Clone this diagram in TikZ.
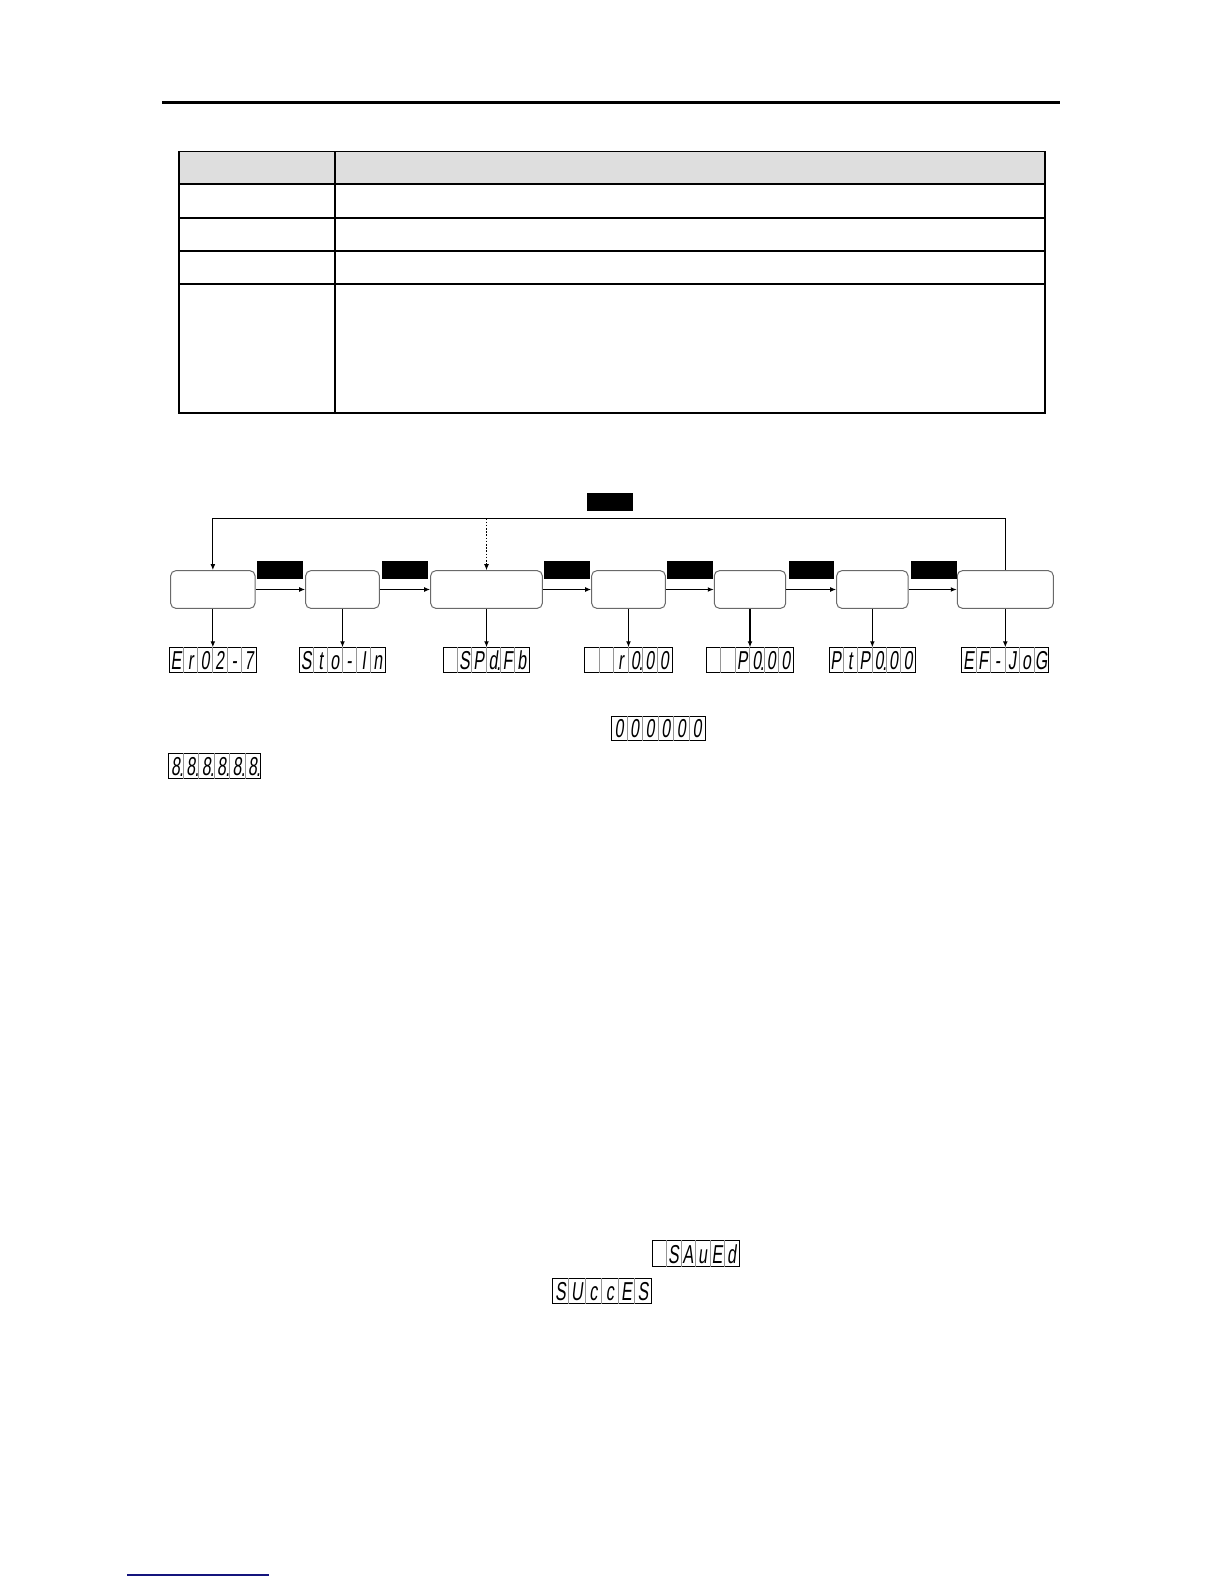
\documentclass[tikz,border=0pt]{standalone}
\usepackage{fontspec}
\usetikzlibrary{arrows.meta,calc}
\newfontfamily\segfont{Liberation Sans}[FakeSlant=0.12,FakeStretch=0.62]
\definecolor{hdrgray}{RGB}{222,222,222}
\definecolor{boxgray}{RGB}{105,105,105}
\definecolor{celldivc}{RGB}{150,150,150}
\definecolor{footblue}{RGB}{20,20,125}
\tikzset{
  tline/.style={line width=0.9bp},
  flowbox/.style={draw=boxgray, rounded corners=2.5bp, line width=0.5bp, inner sep=0pt, minimum height=37.6*0.5bp, minimum width=#1*0.5bp},
  keylabel/.style={fill=black, inner sep=0pt, minimum height=18*0.5bp, minimum width=#1*0.5bp},
  conn/.style={line width=0.55bp},
  arr/.style={conn, -{Latex[length=3bp,width=2.4bp]}},
  dasharr/.style={line width=0.4bp, dash pattern=on 0.8bp off 0.8bp, -{Latex[length=3bp,width=2.4bp]}},
  disp/.style={draw=black, line width=0.5bp, inner sep=0pt},
  celldiv/.style={draw=celldivc, line width=0.3bp},
  segchar/.style={inner sep=0pt, anchor=base, font=\segfont\fontsize{13}{13}\selectfont}
}
% name, centre x, top y, width, height, characters as char/dot pairs
\newcommand\segdisp[6]{%
  \node[disp, minimum width=#4*0.5bp, minimum height=#5*0.5bp, anchor=north] (#1) at (#2,#3) {};
  \foreach \c/\p [count=\i from 0] in {#6} {
    \ifnum\i>0
      \draw[celldiv] ($(#1.north west)+({\i*#4/6},0)$) -- ($(#1.south west)+({\i*#4/6},0)$);
    \fi
    \node[segchar] at ($(#1.south west)+({(\i+0.5)*#4/6},-3.4)$) {\c};
    \ifnum\p=1
      \node[segchar] at ($(#1.south west)+({(\i+1)*#4/6-1.8},-2.6)$) {.};
    \fi
  }
}
\begin{document}
\begin{tikzpicture}[x=0.5bp,y=-0.5bp]
\useasboundingbox (0,0) rectangle (1224,1584);
\fill[white] (0,0) rectangle (1224,1584);

% header rule
\draw[line width=1.15bp] (162,102.5) -- (1060,102.5);

% table
\fill[hdrgray] (178.8,151.5) rectangle (1045.3,184.2);
\draw[tline] (178.8,151.5) rectangle (1045.3,413.3);
\foreach \yy in {184.2,218.3,251.3,284.3} \draw[tline] (178.8,\yy) -- (1045.3,\yy);
\draw[tline] (335.3,151.5) -- (335.3,413.3);

% flow boxes
\node[flowbox=84.3] (b1) at (212.85,589.5) {};
\node[flowbox=73.6] (b2) at (342.5,589.5) {};
\node[flowbox=111.6] (b3) at (486.5,589.5) {};
\node[flowbox=73.6] (b4) at (628.5,589.5) {};
\node[flowbox=71.4] (b5) at (750,589.5) {};
\node[flowbox=71.3] (b6) at (872.35,589.5) {};
\node[flowbox=96] (b7) at (1005.3,589.5) {};

% key labels
\node[keylabel=46] (kt) at (610,502) {};
\node[keylabel=45.7] (k1) at (279.8,570) {};
\node[keylabel=45.4] (k2) at (405,570) {};
\node[keylabel=45.4] (k3) at (567,570) {};
\node[keylabel=45.4] (k4) at (690,570) {};
\node[keylabel=44.7] (k5) at (811.7,570) {};
\node[keylabel=45.4] (k6) at (934,570) {};

% horizontal arrows
\draw[arr] (b1.east) -- (b2.west);
\draw[arr] (b2.east) -- (b3.west);
\draw[arr] (b3.east) -- (b4.west);
\draw[arr] (b4.east) -- (b5.west);
\draw[arr] (b5.east) -- (b6.west);
\draw[arr] (b6.east) -- (b7.west);

% return loop
\coordinate (top) at (600,518.3);
\draw[arr] (b7.north) |- (top) -| (b1.north);
\draw[dasharr] (b3.north |- top) -- (b3.north);

% displays
\segdisp{d1}{212.85}{647.3}{87.4}{25}{E/0,r/0,0/0,2/0,-/0,7/0}
\segdisp{d2}{342.5}{647.3}{86}{25}{S/0,t/0,o/0,-/0,I/0,n/0}
\segdisp{d3}{486.5}{647.3}{86}{25}{~/0,S/0,P/0,d/1,F/0,b/0}
\segdisp{d4}{628.5}{647.3}{87.4}{25}{~/0,~/0,r/0,0/1,0/0,0/0}
\segdisp{d5}{750}{647.3}{87}{25}{~/0,~/0,P/0,0/1,0/0,0/0}
\segdisp{d6}{872.35}{647.3}{86.7}{25}{P/0,t/0,P/0,0/1,0/0,0/0}
\segdisp{d7}{1005.3}{647.3}{87}{25}{E/0,F/0,-/0,J/0,o/0,G/0}

\draw[arr] (b1.south) -- (d1.north);
\draw[arr] (b2.south) -- (d2.north);
\draw[arr] (b3.south) -- (d3.north);
\draw[arr] (b4.south) -- (d4.north);
\draw[arr] (b5.south) -- (d5.north);
\draw[arr] (b6.south) -- (d6.north);
\draw[arr] (b7.south) -- (d7.north);

% further displays
\segdisp{dz}{658.5}{715.7}{93.6}{24}{0/0,0/0,0/0,0/0,0/0,0/0}
\segdisp{de}{214.5}{752.7}{92.4}{25.6}{8/1,8/1,8/1,8/1,8/1,8/1}
\segdisp{ds}{695.8}{1240}{87}{26}{~/0,S/0,A/0,u/0,E/0,d/0}
\segdisp{dc}{602.2}{1278.3}{99}{25}{S/0,U/0,c/0,c/0,E/0,S/0}

% footer rule
\draw[footblue, line width=0.8bp] (127,1575) -- (269,1575);
\end{tikzpicture}
\end{document}
